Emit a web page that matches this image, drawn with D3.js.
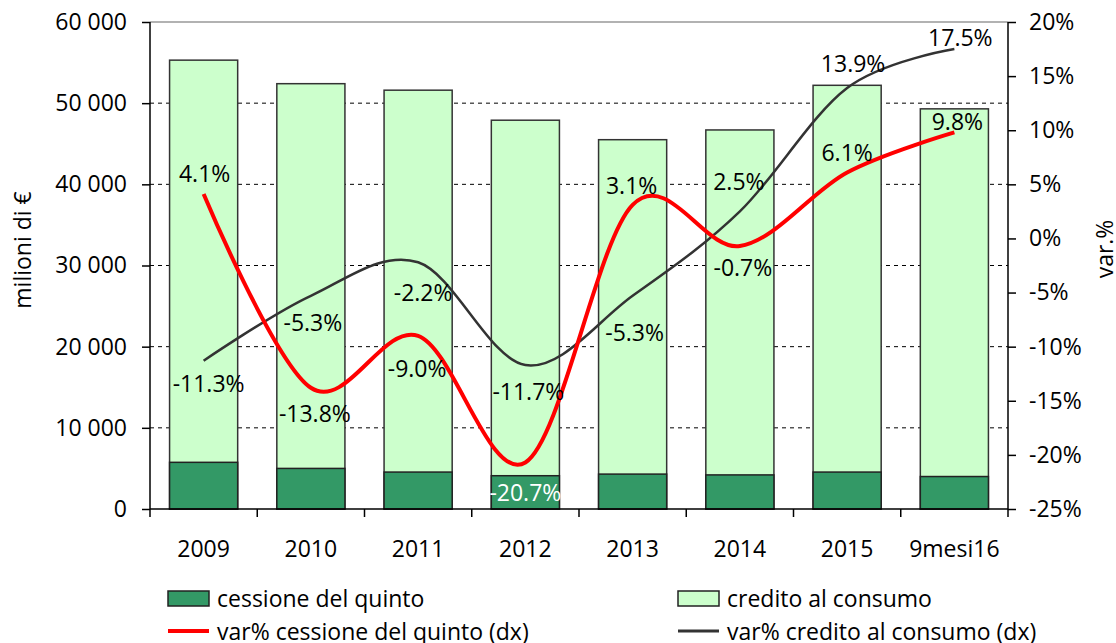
<!DOCTYPE html>
<html>
<head>
<meta charset="utf-8">
<script src="https://cdn.jsdelivr.net/npm/d3@7"></script>
<style>
  body { margin: 0; background: #fff; }
  svg text { font-family: "Open Sans", "Noto Sans", sans-serif; fill: #000; }
</style>
</head>
<body>
<svg class="chart" width="1116" height="643"></svg>
<script>
// Chart data
var categories = ["2009", "2010", "2011", "2012", "2013", "2014", "2015", "9mesi16"];
var creditoConsumo = [55300, 52400, 51600, 47900, 45500, 46700, 52200, 49300];
var cessioneQuinto = [5750, 5000, 4550, 4100, 4300, 4200, 4550, 4000];
var varCessione = [4.1, -13.8, -9.0, -20.7, 3.1, -0.7, 6.1, 9.8];
var varCredito = [-11.3, -5.3, -2.2, -11.7, -5.3, 2.5, 13.9, 17.5];
var leftTicks = [0, 10000, 20000, 30000, 40000, 50000, 60000];
var rightTicks = [-25, -20, -15, -10, -5, 0, 5, 10, 15, 20];

// Manual label placement (offsets from the point, in pixels)
var redLabelDx = [1, 4, -1, 0, -1, 3, 0, 3];
var redLabelDy = [-21, 25, 32, 30, -20, 21, -20, -11];
var blackLabelDx = [5, 2, 5, 3, 2, -1, 6, 6];
var blackLabelDy = [22, 26, 30, 26, 36, -30, -25, -12];

// Plot area (note: "top" is reserved on window, so use plot* names)
var plotLeft = 150, plotRight = 1008, plotTop = 22, plotBottom = 509;
var fontSize = "23px";

var svg = d3.select(".chart");

var xScale = d3.scaleBand()
    .domain(categories)
    .range([plotLeft, plotRight])
    .paddingInner(0.365)
    .paddingOuter(0.1825);

var yLeft = d3.scaleLinear().domain([0, 60000]).range([plotBottom, plotTop]);
var yRight = d3.scaleLinear().domain([-25, 20]).range([plotBottom, plotTop]);

function center(i) { return xScale(categories[i]) + xScale.bandwidth() / 2; }

var fmt = function(d) { return d3.format(",")(d).replace(/,/g, " "); };

// Gridlines (dashed), top border
svg.append("g")
    .selectAll("line")
    .data(leftTicks.filter(function(d) { return d > 0 && d < 60000; }))
    .enter().append("line")
    .attr("x1", plotLeft).attr("x2", plotRight)
    .attr("y1", function(d) { return yLeft(d); })
    .attr("y2", function(d) { return yLeft(d); })
    .attr("stroke", "#000")
    .attr("stroke-width", 1)
    .attr("stroke-dasharray", "4,4");

svg.append("line")
    .attr("x1", plotLeft).attr("x2", plotRight)
    .attr("y1", plotTop).attr("y2", plotTop)
    .attr("stroke", "#999").attr("stroke-width", 1.5);

// Bars: credito al consumo (total) and cessione del quinto
svg.append("g").selectAll("rect")
    .data(creditoConsumo)
    .enter().append("rect")
    .attr("x", function(d, i) { return xScale(categories[i]); })
    .attr("y", function(d) { return yLeft(d); })
    .attr("width", xScale.bandwidth())
    .attr("height", function(d) { return plotBottom - yLeft(d); })
    .attr("fill", "#ccffcc")
    .attr("stroke", "#333")
    .attr("stroke-width", 1.5);

svg.append("g").selectAll("rect")
    .data(cessioneQuinto)
    .enter().append("rect")
    .attr("x", function(d, i) { return xScale(categories[i]); })
    .attr("y", function(d) { return yLeft(d); })
    .attr("width", xScale.bandwidth())
    .attr("height", function(d) { return plotBottom - yLeft(d); })
    .attr("fill", "#339966")
    .attr("stroke", "#222")
    .attr("stroke-width", 1.5);

// Axes
var leftAxis = svg.append("g")
    .attr("transform", "translate(" + plotLeft + ",0)")
    .call(d3.axisLeft(yLeft).tickValues(leftTicks).tickFormat(fmt).tickSize(8).tickPadding(15));

var rightAxis = svg.append("g")
    .attr("transform", "translate(" + plotRight + ",0)")
    .call(d3.axisRight(yRight).tickValues(rightTicks).tickFormat(function(d) { return d + "%"; }).tickSize(8).tickPadding(13));

var step = (plotRight - plotLeft) / categories.length;

var bottomAxis = svg.append("g");
bottomAxis.append("line")
    .attr("x1", plotLeft).attr("x2", plotRight)
    .attr("y1", plotBottom).attr("y2", plotBottom)
    .attr("stroke", "#000").attr("stroke-width", 1.5);
bottomAxis.selectAll("line.tick")
    .data(d3.range(categories.length + 1))
    .enter().append("line")
    .attr("class", "tick")
    .attr("x1", function(d) { return plotLeft + d * step; })
    .attr("x2", function(d) { return plotLeft + d * step; })
    .attr("y1", plotBottom).attr("y2", plotBottom + 8)
    .attr("stroke", "#000").attr("stroke-width", 1.5);
bottomAxis.selectAll("text")
    .data(categories)
    .enter().append("text")
    .attr("x", function(d, i) { return center(i); })
    .attr("y", 548)
    .attr("text-anchor", "middle")
    .attr("dominant-baseline", "central")
    .style("font-size", fontSize)
    .text(function(d) { return d; });

[leftAxis, rightAxis].forEach(function(ax) {
    ax.select(".domain").attr("stroke", "#000").attr("stroke-width", 1.5);
    ax.selectAll(".tick line").attr("stroke", "#000").attr("stroke-width", 1.5);
    ax.selectAll(".tick text").style("font-size", fontSize).attr("fill", "#000");
});
leftAxis.select(".domain").attr("d", "M0," + plotTop + "V" + plotBottom);
rightAxis.select(".domain").attr("d", "M0," + plotTop + "V" + plotBottom);

// Axis titles
svg.append("text")
    .attr("transform", "translate(22,250) rotate(-90)")
    .attr("text-anchor", "middle")
    .attr("dominant-baseline", "central")
    .style("font-size", fontSize)
    .text("milioni di €");

svg.append("text")
    .attr("transform", "translate(1104,249) rotate(-90)")
    .attr("text-anchor", "middle")
    .attr("dominant-baseline", "central")
    .style("font-size", fontSize)
    .text("var.%");

// Smoothed lines
var line = d3.line()
    .x(function(d, i) { return center(i); })
    .y(function(d) { return yRight(d); })
    .curve(d3.curveCardinal.tension(0));

svg.append("path")
    .attr("d", line(varCredito))
    .attr("fill", "none")
    .attr("stroke", "#333")
    .attr("stroke-width", 2.5);

svg.append("path")
    .attr("d", line(varCessione))
    .attr("fill", "none")
    .attr("stroke", "#ff0000")
    .attr("stroke-width", 4);

// Data labels
function addLabels(values, dxs, dys, colorFn) {
    svg.append("g").selectAll("text")
        .data(values)
        .enter().append("text")
        .attr("x", function(d, i) { return center(i) + dxs[i]; })
        .attr("y", function(d, i) { return yRight(d) + dys[i]; })
        .attr("text-anchor", "middle")
        .attr("dominant-baseline", "central")
        .style("font-size", fontSize)
        .style("fill", colorFn)
        .text(function(d) { return d.toFixed(1) + "%"; });
}
addLabels(varCessione, redLabelDx, redLabelDy, function(d, i) { return i === 3 ? "#fff" : "#000"; });
addLabels(varCredito, blackLabelDx, blackLabelDy, function() { return "#000"; });

// Legend
var legendItems = [
    { label: "cessione del quinto", type: "rect", color: "#339966", x: 168, y: 598 },
    { label: "credito al consumo", type: "rect", color: "#ccffcc", x: 678, y: 598 },
    { label: "var% cessione del quinto (dx)", type: "line", color: "#ff0000", x: 168, y: 631 },
    { label: "var% credito al consumo (dx)", type: "line", color: "#333", x: 678, y: 631 }
];

var legend = svg.append("g").selectAll("g")
    .data(legendItems)
    .enter().append("g")
    .attr("transform", function(d) { return "translate(" + d.x + "," + d.y + ")"; });

legend.filter(function(d) { return d.type === "rect"; })
    .append("rect")
    .attr("x", 0).attr("y", -7)
    .attr("width", 41).attr("height", 15)
    .attr("fill", function(d) { return d.color; })
    .attr("stroke", "#222").attr("stroke-width", 1.5);

legend.filter(function(d) { return d.type === "line"; })
    .append("line")
    .attr("x1", 0).attr("x2", 41)
    .attr("y1", 0).attr("y2", 0)
    .attr("stroke", function(d) { return d.color; })
    .attr("stroke-width", function(d) { return d.color === "#ff0000" ? 4 : 3; });

legend.append("text")
    .attr("x", 49)
    .attr("y", 0)
    .attr("dominant-baseline", "central")
    .style("font-size", fontSize)
    .text(function(d) { return d.label; });
</script>
</body>
</html>
